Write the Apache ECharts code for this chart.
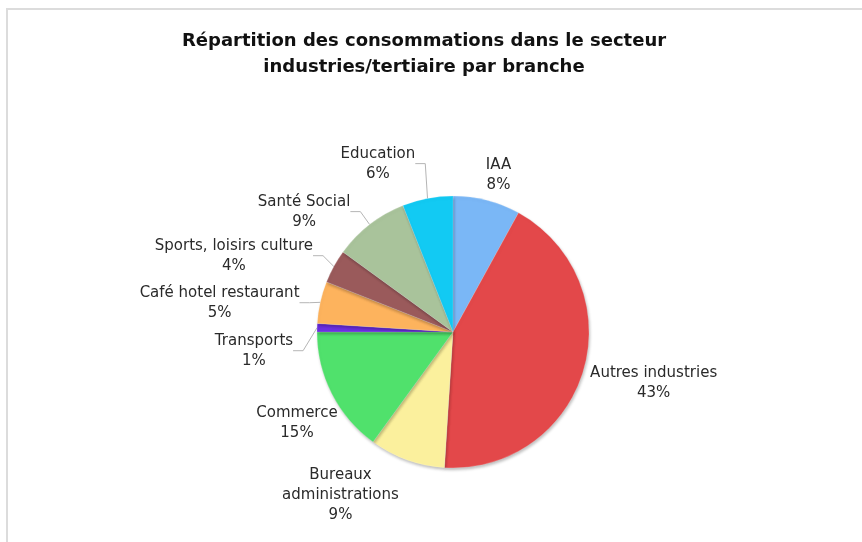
<!DOCTYPE html>
<html>
<head>
<meta charset="utf-8">
<script src="https://cdn.jsdelivr.net/npm/echarts@6/dist/echarts.min.js"></script>
<style>
  html, body { margin: 0; padding: 0; background: #ffffff; }
  #chart { width: 862px; height: 542px; }
</style>
</head>
<body>
<div id="chart"></div>
<script>
// Consumption share by branch, in percent, clockwise from 12 o'clock
const branches = [
  'IAA',
  'Autres industries',
  'Bureaux\nadministrations',
  'Commerce',
  'Transports',
  'Café hotel restaurant',
  'Sports, loisirs culture',
  'Santé Social',
  'Education'
];
const shares = [8, 43, 9, 15, 1, 5, 4, 9, 6];
const sliceColors = [
  '#7ab7f6', '#e3484a', '#fbf09d', '#50e16c', '#6b2fe0',
  '#fdb35d', '#9a5a5b', '#a9c39b', '#12caf3'
];
const titleLines = [
  'Répartition des consommations dans le secteur',
  'industries/tertiaire par branche'
];

// Hand nudges for the outside labels (px), applied to the library's own placement
const labelNudge = [
  [-19, -14], [-20, 10], [11, 24], [27, 24], [-2, 14],
  [1, 3], [0, -5], [9, -12], [5, -23]
];
// Labels sitting right against their slice get no leader line
const withLeader = [false, false, false, false, true, true, true, true, true];

const chart = echarts.init(document.getElementById('chart'), null, { renderer: 'canvas' });

chart.setOption({
  animation: false,
  backgroundColor: '#ffffff',
  title: {
    text: titleLines.join('\n'),
    left: 419,
    top: 23,
    textAlign: 'center',
    textStyle: {
      fontFamily: 'DejaVu Sans',
      fontWeight: 'bold',
      fontSize: 18,
      lineHeight: 26,
      color: '#111111'
    }
  },
  graphic: [{
    type: 'rect',
    shape: { x: 7, y: 9, width: 900, height: 560 },
    style: { fill: 'none', stroke: '#dcdcdc', lineWidth: 2 },
    silent: true
  }],
  series: [{
    type: 'pie',
    center: [453, 332],
    radius: 136,
    startAngle: 90,
    clockwise: true,
    avoidLabelOverlap: true,
    data: branches.map((name, i) => ({
      name: name,
      value: shares[i],
      itemStyle: { color: sliceColors[i] },
      labelLine: { show: withLeader[i] }
    })),
    itemStyle: {
      borderColor: 'rgba(255,255,255,0.35)',
      borderWidth: 0.5,
      shadowBlur: 3,
      shadowOffsetX: 1,
      shadowOffsetY: 2,
      shadowColor: 'rgba(0,0,0,0.25)'
    },
    label: {
      show: true,
      position: 'outside',
      formatter: (p) => p.name.split('\n').map(s => '{t|' + s + '}').join('\n') + '\n{t|' + p.value + '%}',
      rich: {
        t: {
          align: 'center',
          fontFamily: 'DejaVu Sans',
          fontSize: 15,
          lineHeight: 20,
          color: '#2a2a2a'
        }
      }
    },
    labelLine: {
      show: true,
      length: 12,
      length2: 10,
      lineStyle: { color: '#b5b5b5', width: 1 }
    },
    labelLayout: (params) => {
      const r = params.labelRect;
      const n = labelNudge[params.dataIndex];
      return {
        x: r.x + r.width / 2 + n[0],
        y: r.y + r.height / 2 + n[1],
        align: 'center',
        verticalAlign: 'middle'
      };
    }
  }]
});
</script>
</body>
</html>
